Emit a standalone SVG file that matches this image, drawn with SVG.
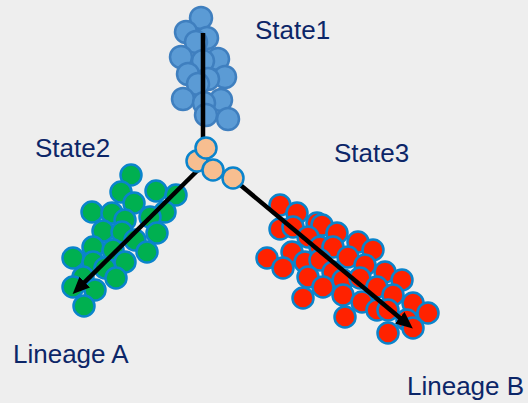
<svg xmlns="http://www.w3.org/2000/svg" width="528" height="403" viewBox="0 0 528 403">
<style>
.bg{fill:#eeeeee}
.b circle{fill:#5b9bd5;stroke:#3f7fbf;stroke-width:2.5}
.g circle{fill:#00b050;stroke:#0a84cc;stroke-width:2.5}
.r circle{fill:#ff2200;stroke:#0a84cc;stroke-width:2.5}
.p circle{fill:#f7be90;stroke:#0a84cc;stroke-width:2.5}
.lbl{font-family:"Liberation Sans",Arial,sans-serif;font-size:26px;fill:#0c2668}
.ln{stroke:#000;stroke-width:4.5;fill:none}
</style>
<defs>
<marker id="ah" markerUnits="userSpaceOnUse" markerWidth="18" markerHeight="16" refX="4" refY="7.5" orient="auto">
<path d="M0,0 L17,7.5 L0,15 z" fill="#000"/>
</marker>
</defs>
<rect class="bg" width="528" height="403"/>
<g id="state1" class="b">
<circle cx="201" cy="18" r="11"/>
<circle cx="186" cy="32" r="11"/>
<circle cx="207" cy="38" r="11"/>
<circle cx="196" cy="42" r="11"/>
<circle cx="181" cy="57" r="11"/>
<circle cx="218" cy="59" r="11"/>
<circle cx="203" cy="61" r="11"/>
<circle cx="188" cy="74" r="11"/>
<circle cx="225" cy="77" r="11"/>
<circle cx="208" cy="79" r="11"/>
<circle cx="198" cy="84" r="11"/>
<circle cx="183" cy="99" r="11"/>
<circle cx="221" cy="100" r="11"/>
<circle cx="204" cy="103" r="11"/>
<circle cx="206" cy="115" r="11"/>
<circle cx="228" cy="119" r="11"/>
</g>
<g id="state2" class="g">
<circle cx="131" cy="175" r="10.5"/>
<circle cx="121" cy="192" r="10.5"/>
<circle cx="156" cy="191" r="10.5"/>
<circle cx="176" cy="195" r="10.5"/>
<circle cx="92" cy="212" r="10.5"/>
<circle cx="134" cy="203" r="10.5"/>
<circle cx="112" cy="213" r="10.5"/>
<circle cx="165" cy="212" r="10.5"/>
<circle cx="125" cy="220" r="10.5"/>
<circle cx="150" cy="217" r="10.5"/>
<circle cx="103" cy="231" r="10.5"/>
<circle cx="122" cy="232" r="10.5"/>
<circle cx="135" cy="240" r="10.5"/>
<circle cx="157" cy="233" r="10.5"/>
<circle cx="147" cy="252" r="10.5"/>
<circle cx="93" cy="247" r="10.5"/>
<circle cx="113" cy="250" r="10.5"/>
<circle cx="73" cy="258" r="10.5"/>
<circle cx="93" cy="262" r="10.5"/>
<circle cx="125" cy="262" r="10.5"/>
<circle cx="105" cy="268" r="10.5"/>
<circle cx="116" cy="278" r="10.5"/>
<circle cx="83" cy="277" r="10.5"/>
<circle cx="73" cy="287" r="10.5"/>
<circle cx="95" cy="290" r="10.5"/>
<circle cx="84" cy="306" r="10.5"/>
</g>
<g id="state3" class="r">
<circle cx="280" cy="205" r="10.5"/>
<circle cx="297" cy="213" r="10.5"/>
<circle cx="280" cy="229" r="10.5"/>
<circle cx="293" cy="227" r="10.5"/>
<circle cx="317" cy="223" r="10.5"/>
<circle cx="322" cy="225" r="10.5"/>
<circle cx="337" cy="233" r="10.5"/>
<circle cx="308" cy="237" r="10.5"/>
<circle cx="358" cy="242" r="10.5"/>
<circle cx="373" cy="250" r="10.5"/>
<circle cx="320" cy="247" r="10.5"/>
<circle cx="333" cy="247" r="10.5"/>
<circle cx="348" cy="257" r="10.5"/>
<circle cx="365" cy="265" r="10.5"/>
<circle cx="292" cy="252" r="10.5"/>
<circle cx="267" cy="258" r="10.5"/>
<circle cx="283" cy="268" r="10.5"/>
<circle cx="305" cy="262" r="10.5"/>
<circle cx="320" cy="260" r="10.5"/>
<circle cx="333" cy="272" r="10.5"/>
<circle cx="308" cy="277" r="10.5"/>
<circle cx="323" cy="287" r="10.5"/>
<circle cx="343" cy="280" r="10.5"/>
<circle cx="360" cy="278" r="10.5"/>
<circle cx="385" cy="272" r="10.5"/>
<circle cx="402" cy="280" r="10.5"/>
<circle cx="377" cy="287" r="10.5"/>
<circle cx="393" cy="295" r="10.5"/>
<circle cx="303" cy="298" r="10.5"/>
<circle cx="343" cy="295" r="10.5"/>
<circle cx="362" cy="302" r="10.5"/>
<circle cx="377" cy="310" r="10.5"/>
<circle cx="388" cy="310" r="10.5"/>
<circle cx="413" cy="303" r="10.5"/>
<circle cx="428" cy="313" r="10.5"/>
<circle cx="345" cy="317" r="10.5"/>
<circle cx="407" cy="320" r="10.5"/>
<circle cx="413" cy="328" r="10.5"/>
<circle cx="388" cy="333" r="10.5"/>
</g>
<g id="connectors">
<line class="ln" x1="203" y1="33" x2="203" y2="150"/>
<line class="ln" x1="200" y1="168" x2="81.9" y2="284.9" marker-end="url(#ah)"/>
<line class="ln" x1="232" y1="178" x2="402.8" y2="320.3" marker-end="url(#ah)"/>
</g>
<g id="root" class="p">
<circle cx="197" cy="161" r="10.5"/>
<circle cx="206" cy="148" r="10.5"/>
<circle cx="213" cy="170" r="10.5"/>
<circle cx="233" cy="178" r="10.5"/>
</g>
<g id="labels">
<text class="lbl" x="255" y="39">State1</text>
<text class="lbl" x="35" y="157">State2</text>
<text class="lbl" x="334" y="162">State3</text>
<text class="lbl" x="13" y="363">Lineage A</text>
<text class="lbl" x="407" y="395">Lineage B</text>
</g>
</svg>
